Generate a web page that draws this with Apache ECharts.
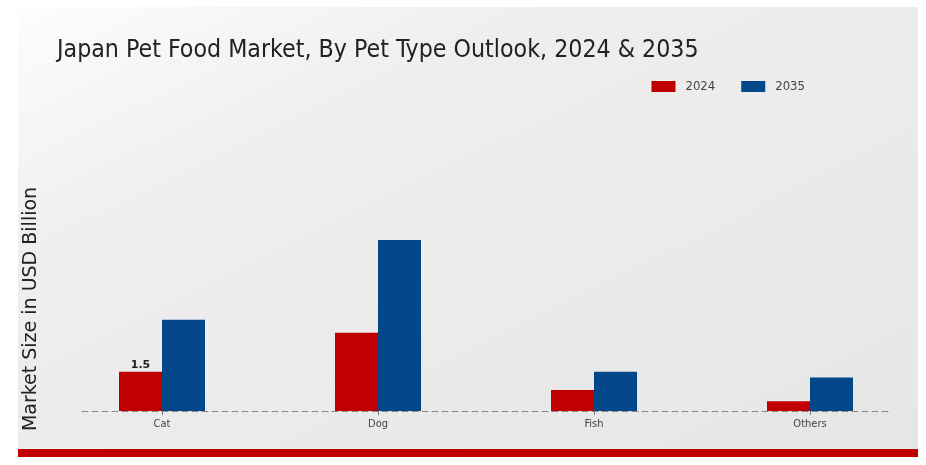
<!DOCTYPE html>
<html>
<head>
<meta charset="utf-8">
<script src="https://cdn.jsdelivr.net/npm/echarts@6/dist/echarts.min.js"></script>
<style>
html,body{margin:0;padding:0;background:#fff;}
#wrap{position:relative;width:926px;height:465px;overflow:hidden;background:#fff;}
#panel{position:absolute;left:18px;top:7px;width:900px;height:442px;background:linear-gradient(to bottom right,#fdfdfd 0%,#eeeeee 30%,#e6e6e6 100%);}
#redbar{position:absolute;left:18px;top:449px;width:900px;height:8px;background:#c00000;}
#chart{position:absolute;left:0;top:0;width:926px;height:465px;}
</style>
</head>
<body>
<div id="wrap"><div id="panel"></div><div id="redbar"></div><div id="chart"></div></div>
<script>
var categories = ['Cat', 'Dog', 'Fish', 'Others'];
var values2024 = [1.5, 3.0, 0.8, 0.37];
var values2035 = [3.5, 6.55, 1.5, 1.28];
var seriesNames = ['2024', '2035'];

var condensed = '"DejaVu Sans Condensed", "Liberation Sans Narrow", "Roboto Condensed", Roboto, sans-serif';

var chart = echarts.init(document.getElementById('chart'));
chart.setOption({
  backgroundColor: 'transparent',
  animation: false,
  title: {
    text: 'Japan Pet Food Market, By Pet Type Outlook, 2024 & 2035',
    left: 52, top: 33,
    textStyle: {fontFamily: condensed, fontWeight: 'normal', fontSize: 24.7, color: '#222'}
  },
  legend: {
    data: seriesNames,
    right: 116, top: 75,
    itemWidth: 24, itemHeight: 11, itemGap: 26,
    icon: 'rect',
    textStyle: {fontFamily: condensed, fontSize: 13, color: '#444', padding: [0, 0, 0, 5]}
  },
  grid: [
    {left: 54, right: 8, top: 150, bottom: 54},
    {left: 82, right: 38, top: 207, bottom: 54}
  ],
  xAxis: [
    {
      type: 'category', data: categories, gridIndex: 0,
      axisLine: {show: false},
      axisTick: {show: true, alignWithLabel: true, length: 4, lineStyle: {color: '#777'}},
      axisLabel: {fontFamily: condensed, fontSize: 11, color: '#444', margin: 8}
    },
    {
      type: 'value', gridIndex: 1, min: 0, max: 1,
      axisLine: {show: true, lineStyle: {color: '#888', type: [6, 4], width: 1}},
      axisTick: {show: false}, axisLabel: {show: false}, splitLine: {show: false}
    }
  ],
  yAxis: [
    {
      type: 'value', gridIndex: 0, min: 0, max: 10,
      axisLine: {show: false}, axisTick: {show: false}, axisLabel: {show: false}, splitLine: {show: false}
    },
    {
      type: 'value', gridIndex: 1, min: 0, max: 1,
      name: 'Market Size in USD Billion', nameLocation: 'middle', nameGap: 41,
      nameTextStyle: {fontFamily: 'DejaVu Sans', fontSize: 19, color: '#222'},
      axisLine: {show: false}, axisTick: {show: false}, axisLabel: {show: false}, splitLine: {show: false}
    }
  ],
  series: [
    {
      name: seriesNames[0], type: 'bar', xAxisIndex: 0, yAxisIndex: 0,
      data: values2024, barWidth: 43, barGap: '0%',
      itemStyle: {color: '#c00000'},
      label: {
        show: true, position: 'top', distance: 1,
        fontFamily: 'DejaVu Sans', fontWeight: 'bold', fontSize: 11, color: '#222',
        formatter: function (p) { return p.dataIndex === 0 ? p.value : ''; }
      }
    },
    {
      name: seriesNames[1], type: 'bar', xAxisIndex: 0, yAxisIndex: 0,
      data: values2035, barWidth: 43, barGap: '0%',
      itemStyle: {color: '#02478a'}
    }
  ]
});
</script>
</body>
</html>
